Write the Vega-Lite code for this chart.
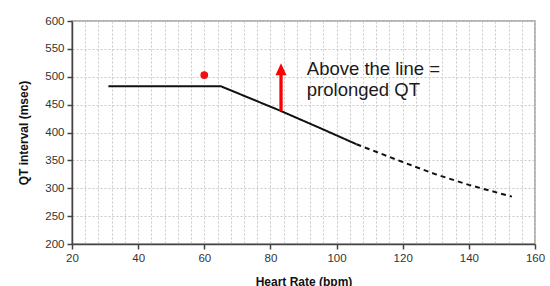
{
  "$schema": "https://vega.github.io/schema/vega-lite/v6.json",
  "width": 463,
  "height": 223,
  "autosize": {"type": "none"},
  "padding": {"left": 72, "top": 21, "right": 15, "bottom": 42},
  "background": "white",
  "config": {
    "font": "Liberation Sans",
    "view": {"stroke": "#9a9a9a", "strokeWidth": 1.5},
    "axis": {
      "domainColor": "#444",
      "domainWidth": 1.5,
      "tickColor": "#444",
      "tickWidth": 1.5,
      "labelColor": "#333",
      "labelFontSize": 11.5,
      "labelFont": "Liberation Sans",
      "titleFont": "Liberation Sans",
      "titleFontSize": 12,
      "titleFontWeight": "bold",
      "titleColor": "#111",
      "gridColor": "#c8c8c8",
      "gridDash": [2, 2],
      "gridWidth": 1
    }
  },
  "datasets": {
    "curve": [
      {"hr": 31, "qt": 483, "seg": "solid"},
      {"hr": 65, "qt": 483, "seg": "solid"},
      {"hr": 83, "qt": 439, "seg": "solid"},
      {"hr": 95, "qt": 408, "seg": "solid"},
      {"hr": 106, "qt": 379, "seg": "solid"},
      {"hr": 106, "qt": 379, "seg": "dashed"},
      {"hr": 120, "qt": 347, "seg": "dashed"},
      {"hr": 130, "qt": 325, "seg": "dashed"},
      {"hr": 140, "qt": 306, "seg": "dashed"},
      {"hr": 153, "qt": 285, "seg": "dashed"}
    ],
    "dot": [{"hr": 60, "qt": 503}],
    "shaft": [{"hr": 83.2, "qt": 439, "qt2": 506}],
    "head": [{"hr": 83.2, "qt": 513.5}],
    "labels": [
      {"hr": 91, "qt": 503, "text": "Above the line ="},
      {"hr": 91, "qt": 465.5, "text": "prolonged QT"}
    ]
  },
  "encoding": {
    "x": {
      "field": "hr", "type": "quantitative",
      "scale": {"domain": [20, 160], "nice": false},
      "axis": {
        "title": "Heart Rate (bpm)",
        "values": [20,24,28,32,36,40,44,48,52,56,60,64,68,72,76,80,84,88,92,96,100,104,108,112,116,120,124,128,132,136,140,144,148,152,156,160],
        "labelExpr": "datum.value % 20 === 0 ? datum.label : ''",
        "labelOverlap": false,
        "tickSize": {"condition": {"test": "datum.value % 20 === 0", "value": 5}, "value": 0},
        "labelPadding": 3,
        "titlePadding": 13,
        "grid": true,
        "labelFlush": false
      }
    },
    "y": {
      "field": "qt", "type": "quantitative",
      "scale": {"domain": [200, 600], "nice": false},
      "axis": {
        "title": "QT interval (msec)",
        "values": [200,250,300,350,400,450,500,550,600],
        "labelOverlap": false,
        "tickSize": 5,
        "labelPadding": 3,
        "titlePadding": 14,
        "grid": true,
        "labelFlush": false
      }
    }
  },
  "layer": [
    {
      "data": {"name": "curve"},
      "mark": {"type": "line", "color": "#111", "strokeWidth": 2},
      "encoding": {
        "strokeDash": {
          "field": "seg", "type": "nominal",
          "scale": {"domain": ["solid", "dashed"], "range": [[1, 0], [5, 4]]},
          "legend": null
        },
        "detail": {"field": "seg"}
      }
    },
    {
      "data": {"name": "dot"},
      "mark": {"type": "circle", "color": "#ee1111", "size": 60, "opacity": 1},
      "encoding": {}
    },
    {
      "data": {"name": "shaft"},
      "mark": {"type": "rule", "color": "#ff0000", "strokeWidth": 3.3},
      "encoding": {
        "y2": {"field": "qt2"}
      }
    },
    {
      "data": {"name": "head"},
      "mark": {"type": "point", "shape": "M -0.92 1 L 0 -1 L 0.92 1 Z", "filled": true, "color": "#ff0000", "size": 144, "opacity": 1},
      "encoding": {}
    },
    {
      "data": {"name": "labels"},
      "mark": {"type": "text", "align": "left", "baseline": "alphabetic", "fontSize": 18.5, "color": "#1a1a1a", "font": "Liberation Sans"},
      "encoding": {
        "text": {"field": "text"}
      }
    }
  ]
}
